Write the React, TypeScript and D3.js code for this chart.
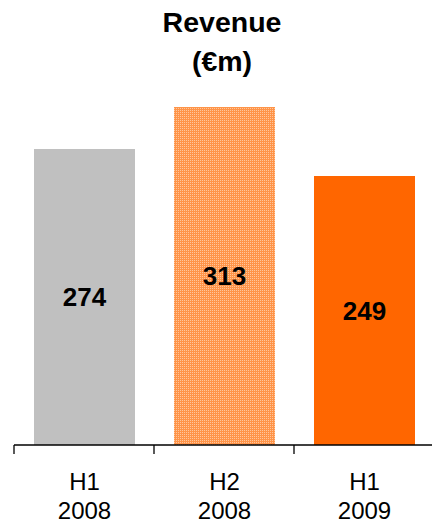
import React from "react";
import * as d3 from "d3";

const categories = ["H1\n2008", "H2\n2008", "H1\n2009"];
const values = [274, 313, 249];
const fills = ["#C0C0C0", "url(#dither)", "#FF6600"];
const titleLines = ["Revenue", "(€m)"];

export default function App() {
  const W = 432, H = 523;
  const x = d3.scaleBand<string>().domain(categories).range([14, 434]).paddingInner(0.28).paddingOuter(0.14).round(true);
  const y = d3.scaleLinear().domain([0, 350]).range([445, 445 - 1.08 * 350]);
  const ticks = categories.map((_, i) => 14 + i * 140);
  return (
    <svg width={W} height={H} style={{ position: "absolute", left: 0, top: 0 }} fontFamily="Liberation Sans, Arial, sans-serif">
      <defs>
        <pattern id="dither" width={2} height={2} patternUnits="userSpaceOnUse">
          <rect width={2} height={2} fill="#FF9448" shapeRendering="crispEdges" />
          <rect width={1} height={1} fill="#FFC69C" shapeRendering="crispEdges" />
        </pattern>
      </defs>
      {titleLines.map((t, i) => (
        <text key={t} x={222} y={32 + i * 39} textAnchor="middle" fontWeight="bold" fontSize={28.5}>{t}</text>
      ))}
      {categories.map((c, i) => (
        <g key={c}>
          <rect x={x(c)!} y={Math.round(y(values[i]))} width={x.bandwidth()} height={445 - Math.round(y(values[i]))} fill={fills[i]} shapeRendering="crispEdges" />
          <text x={x(c)! + x.bandwidth() / 2} y={(y(values[i]) + y(0)) / 2} dy="0.36em" textAnchor="middle" fontWeight="bold" fontSize={26}>{values[i]}</text>
          {c.split("\n").map((l, j) => (
            <text key={j} x={x(c)! + x.bandwidth() / 2} y={490 + j * 29} textAnchor="middle" fontSize={24}>{l}</text>
          ))}
        </g>
      ))}
      <line x1={14} x2={432} y1={445} y2={445} stroke="#000" strokeWidth={1.3} />
      {ticks.map((t) => (
        <line key={t} x1={t} x2={t} y1={445} y2={454} stroke="#000" strokeWidth={1.3} />
      ))}
    </svg>
  );
}
